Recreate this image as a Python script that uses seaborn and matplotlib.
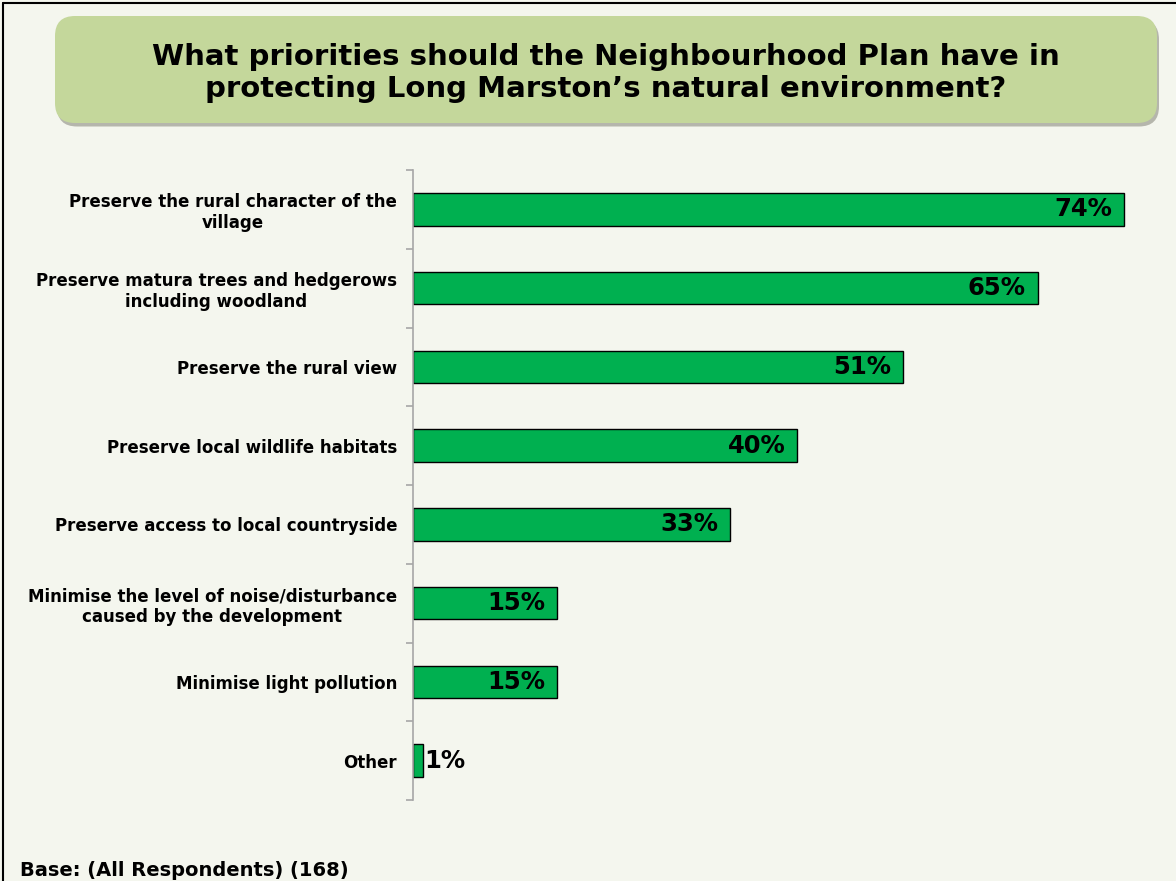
import matplotlib
matplotlib.use("Agg")
import matplotlib.pyplot as plt
from matplotlib.patches import FancyBboxPatch
from matplotlib.lines import Line2D
import numpy as np
import seaborn as sns

# Survey results
categories = [
    "Preserve the rural character of the\nvillage",
    "Preserve matura trees and hedgerows\nincluding woodland",
    "Preserve the rural view",
    "Preserve local wildlife habitats",
    "Preserve access to local countryside",
    "Minimise the level of noise/disturbance\ncaused by the development",
    "Minimise light pollution",
    "Other",
]
values = [74, 65, 51, 40, 33, 15, 15, 1]

title = ("What priorities should the Neighbourhood Plan have in\n"
         "protecting Long Marston\u2019s natural environment?")
base_note = "Base: (All Respondents) (168)"

BG = "#F4F6EE"
BAR = "#00B050"
BOX = "#C4D79B"

sns.set_theme(style="white")
plt.rcParams["font.family"] = ["DejaVu Sans"]

W, H = 1176, 881
fig = plt.figure(figsize=(W / 100, H / 100), dpi=100, facecolor=BG)

# Chart area
left_px, right_px, top_px, bot_px = 413, 1160, 170, 800
ax = fig.add_axes([left_px / W, 1 - bot_px / H,
                   (right_px - left_px) / W, (bot_px - top_px) / H])
ax.set_facecolor(BG)

sns.barplot(x=values, y=categories, orient="h", color=BAR, width=0.41,
            edgecolor="black", linewidth=1.0, saturation=1, ax=ax)

ax.set_xlim(0, (right_px - left_px) / 9.61)
ax.set_ylim(len(categories) - 0.5, -0.5)
ax.set_xlabel("")
ax.set_ylabel("")
ax.set_xticks([])

for s in ["top", "right", "bottom"]:
    ax.spines[s].set_visible(False)
ax.spines["left"].set_color("#A6A6A6")
ax.spines["left"].set_linewidth(1.2)

ax.set_yticks(np.arange(-0.5, len(categories)), minor=True)
ax.tick_params(axis="y", which="minor", length=5, width=1.2, color="#A6A6A6",
               direction="out", left=True)
ax.tick_params(axis="y", which="major", length=0, pad=11.5, labelsize=12)
for lbl in ax.get_yticklabels():
    lbl.set_fontweight("bold")
    lbl.set_multialignment("center")
    lbl.set_linespacing(1.2)
    lbl.set_color("black")

# Value labels
for i, v in enumerate(values):
    if v >= 5:
        ax.annotate(f"{v}%", (v, i), xytext=(-8.5, 0), textcoords="offset points",
                    ha="right", va="center", fontsize=17.5, fontweight="bold",
                    color="black")
    else:
        ax.annotate(f"{v}%", (v, i), xytext=(1.5, 0), textcoords="offset points",
                    ha="left", va="center", fontsize=17.5, fontweight="bold",
                    color="black")

# Title banner with a soft drop shadow
inch = fig.dpi_scale_trans
bx0, bx1 = 55 / 100, 1157 / 100
by0, by1 = (H - 123) / 100, (H - 16) / 100
r = 0.2
shadow = FancyBboxPatch((bx0 + r + 0.02, by0 + r - 0.035), bx1 - bx0 - 2 * r,
                        by1 - by0 - 2 * r, boxstyle=f"round,pad={r}",
                        transform=inch, facecolor="#8C8C80", edgecolor="none",
                        alpha=0.6, zorder=1)
box = FancyBboxPatch((bx0 + r, by0 + r), bx1 - bx0 - 2 * r, by1 - by0 - 2 * r,
                     boxstyle=f"round,pad={r}", transform=inch,
                     facecolor=BOX, edgecolor="none", zorder=2)
fig.patches.extend([shadow, box])
fig.text(606 / W, 1 - 73 / H, title, ha="center", va="center",
         fontsize=21, fontweight="bold", color="black", linespacing=1.16,
         zorder=3)

# Footnote
fig.text(20 / W, 1 - 870 / H, base_note, ha="left", va="center",
         fontsize=14, fontweight="bold", color="black")

# Frame lines along the top and left edges
fig.add_artist(Line2D([3 / W, 1], [1 - 3 / H, 1 - 3 / H], color="black",
                      linewidth=1.5, transform=fig.transFigure))
fig.add_artist(Line2D([3 / W, 3 / W], [0, 1 - 3 / H], color="black",
                      linewidth=1.5, transform=fig.transFigure))

fig.savefig("out.png", dpi=100, facecolor=BG)
